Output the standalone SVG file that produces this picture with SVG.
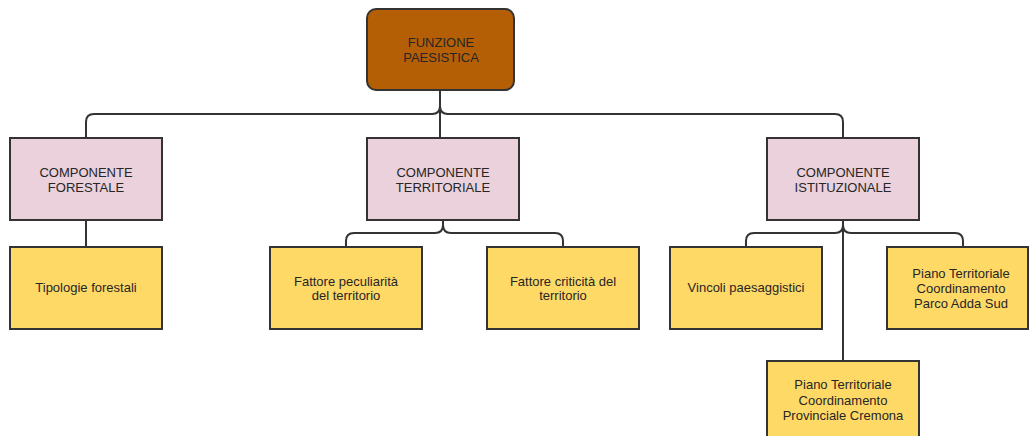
<svg xmlns="http://www.w3.org/2000/svg" width="1030" height="436" viewBox="0 0 1030 436">
  <style>
    .box { stroke: #333333; stroke-width: 2; }
    .root { fill: #b45f06; }
    .comp { fill: #ead1dc; }
    .leaf { fill: #ffd966; }
    .wire { fill: none; stroke: #333333; stroke-width: 2; }
    text { font-family: "Liberation Sans", Arial, sans-serif; font-size: 13px; fill: #262626; text-anchor: middle; }
  </style>
  <rect width="1030" height="436" fill="#ffffff"/>

  <!-- connectors -->
  <g id="connectors">
    <!-- root to components -->
    <path class="wire" d="M440,90 V106 Q440,114 432,114 H94 Q86,114 86,122 V138"/>
    <path class="wire" d="M440,106 Q440,114 448,114 H835 Q843,114 843,122 V138"/>
    <path class="wire" d="M440,106 V138"/>
    <!-- forestale -->
    <path class="wire" d="M86,220 V247"/>
    <!-- territoriale -->
    <path class="wire" d="M443,220 V225 Q443,233 435,233 H354 Q346,233 346,241 V247"/>
    <path class="wire" d="M443,225 Q443,233 451,233 H555 Q563,233 563,241 V247"/>
    <!-- istituzionale -->
    <path class="wire" d="M843,220 V225 Q843,233 835,233 H754 Q746,233 746,241 V247"/>
    <path class="wire" d="M843,225 Q843,233 851,233 H955 Q963,233 963,241 V247"/>
    <path class="wire" d="M843,225 V361"/>
  </g>

  <g id="funzione-paesistica">
    <rect class="box root" x="367" y="9" width="147" height="81" rx="9"/>
    <text x="441" y="47">FUNZIONE</text>
    <text x="441" y="62">PAESISTICA</text>
  </g>

  <g id="componente-forestale">
    <rect class="box comp" x="10" y="138" width="152" height="82"/>
    <text x="86" y="177">COMPONENTE</text>
    <text x="86" y="192">FORESTALE</text>
  </g>

  <g id="componente-territoriale">
    <rect class="box comp" x="367" y="138" width="152" height="82"/>
    <text x="443" y="177">COMPONENTE</text>
    <text x="443" y="192">TERRITORIALE</text>
  </g>

  <g id="componente-istituzionale">
    <rect class="box comp" x="767" y="138" width="152" height="82"/>
    <text x="843" y="177">COMPONENTE</text>
    <text x="843" y="192">ISTITUZIONALE</text>
  </g>

  <g id="tipologie-forestali">
    <rect class="box leaf" x="10" y="247" width="152" height="82"/>
    <text x="86" y="292">Tipologie forestali</text>
  </g>

  <g id="fattore-peculiarita">
    <rect class="box leaf" x="270" y="247" width="152" height="82"/>
    <text x="346" y="286">Fattore peculiarità</text>
    <text x="346" y="300">del territorio</text>
  </g>

  <g id="fattore-criticita">
    <rect class="box leaf" x="487" y="247" width="152" height="82"/>
    <text x="563" y="286">Fattore criticità del</text>
    <text x="563" y="300">territorio</text>
  </g>

  <g id="vincoli-paesaggistici">
    <rect class="box leaf" x="670" y="247" width="152" height="82"/>
    <text x="746" y="292">Vincoli paesaggistici</text>
  </g>

  <g id="ptc-parco-adda-sud">
    <rect class="box leaf" x="887" y="247" width="141" height="82"/>
    <text x="961" y="278">Piano Territoriale</text>
    <text x="961" y="293">Coordinamento</text>
    <text x="961" y="308">Parco Adda Sud</text>
  </g>

  <g id="ptc-provinciale-cremona">
    <rect class="box leaf" x="767" y="361" width="152" height="82"/>
    <text x="843" y="389">Piano Territoriale</text>
    <text x="843" y="405">Coordinamento</text>
    <text x="843" y="420">Provinciale Cremona</text>
  </g>
</svg>
